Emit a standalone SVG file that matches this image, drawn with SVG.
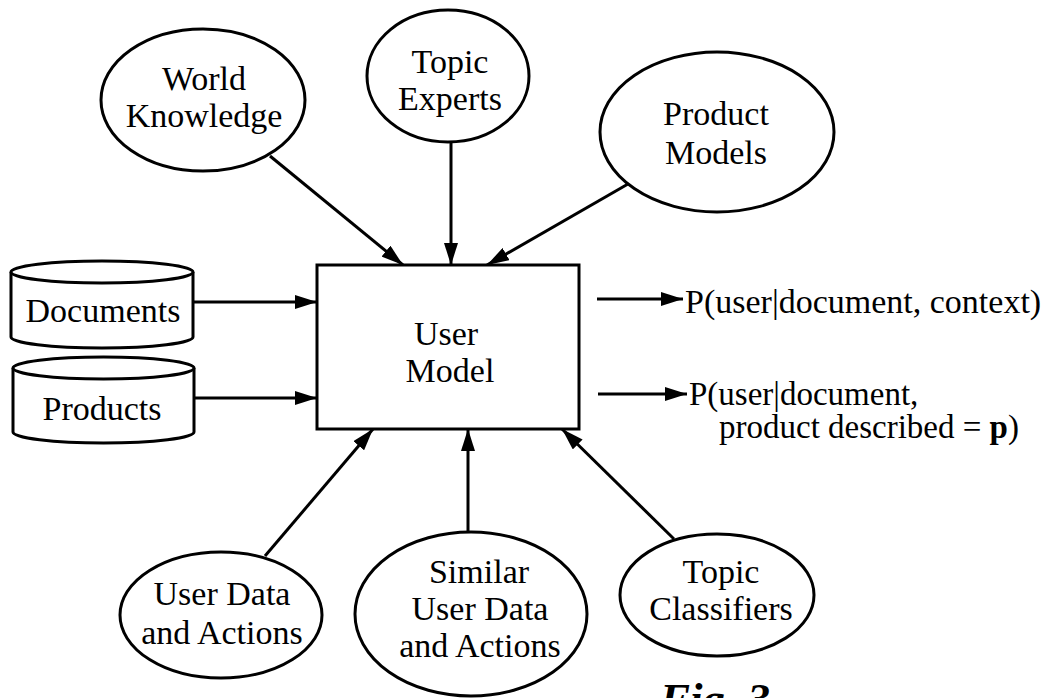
<svg xmlns="http://www.w3.org/2000/svg" width="1057" height="698" viewBox="0 0 1057 698">
<style>
.shape{fill:#fff;stroke:#000;stroke-width:3}
.edge{fill:none;stroke:#000;stroke-width:3}
text{font-family:"Liberation Serif","Times New Roman",serif;font-size:34px;fill:#000}
.c{text-anchor:middle}
.out{font-size:33px}
</style>
<defs>
<marker id="ah" markerUnits="userSpaceOnUse" markerWidth="22" markerHeight="14" viewBox="0 0 22 14" refX="22" refY="7" orient="auto">
<path d="M0,0 L22,7 L0,14 Z" fill="#000"/>
</marker>
</defs>
<rect width="1057" height="698" fill="#fff"/>

<g id="connectors">
<line class="edge" x1="270" y1="156" x2="403" y2="265" marker-end="url(#ah)"/>
<line class="edge" x1="451" y1="142" x2="451" y2="265" marker-end="url(#ah)"/>
<line class="edge" x1="628" y1="184" x2="487" y2="265" marker-end="url(#ah)"/>
<line class="edge" x1="194" y1="302" x2="317" y2="302" marker-end="url(#ah)"/>
<line class="edge" x1="195" y1="398" x2="317" y2="398" marker-end="url(#ah)"/>
<line class="edge" x1="265" y1="556" x2="373" y2="429" marker-end="url(#ah)"/>
<line class="edge" x1="468" y1="532" x2="468" y2="429" marker-end="url(#ah)"/>
<line class="edge" x1="674" y1="539" x2="562" y2="429" marker-end="url(#ah)"/>
<line class="edge" x1="597" y1="299" x2="683" y2="299" marker-end="url(#ah)"/>
<line class="edge" x1="598" y1="394" x2="687" y2="394" marker-end="url(#ah)"/>
</g>

<g id="world-knowledge">
<ellipse class="shape" cx="203" cy="100" rx="102" ry="71"/>
<text class="c" x="204" y="90">World</text>
<text class="c" x="204" y="127">Knowledge</text>
</g>

<g id="topic-experts">
<ellipse class="shape" cx="448" cy="76" rx="81" ry="66"/>
<text class="c" x="450" y="73">Topic</text>
<text class="c" x="450" y="110">Experts</text>
</g>

<g id="product-models">
<ellipse class="shape" cx="717" cy="132" rx="117" ry="80"/>
<text class="c" x="716" y="125">Product</text>
<text class="c" x="716" y="164">Models</text>
</g>

<g id="documents">
<path class="shape" d="M11,272 L11,337 A91,11 0 0 0 193,337 L193,272"/>
<ellipse class="shape" cx="102" cy="272" rx="91" ry="11"/>
<text class="c" x="103" y="322">Documents</text>
</g>

<g id="products">
<path class="shape" d="M13,368 L13,432 A90.5,11 0 0 0 194,432 L194,368"/>
<ellipse class="shape" cx="103.5" cy="368" rx="90.5" ry="11"/>
<text class="c" x="102" y="420">Products</text>
</g>

<g id="user-model">
<rect class="shape" x="317" y="265" width="262" height="164"/>
<text class="c" x="446" y="345">User</text>
<text class="c" x="450" y="382">Model</text>
</g>

<g id="output-1">
<text x="685" y="313">P(user|document, context)</text>
</g>

<g id="output-2">
<text class="out" x="689" y="405">P(user|document,</text>
<text class="out" x="719" y="438">product described = <tspan font-weight="bold">p</tspan>)</text>
</g>

<g id="user-data">
<ellipse class="shape" cx="221" cy="615" rx="101" ry="63"/>
<text class="c" x="222" y="605">User Data</text>
<text class="c" x="222" y="644">and Actions</text>
</g>

<g id="similar-user-data">
<ellipse class="shape" cx="471" cy="614" rx="116" ry="82"/>
<text class="c" x="479" y="583">Similar</text>
<text class="c" x="480" y="620">User Data</text>
<text class="c" x="480" y="657">and Actions</text>
</g>

<g id="topic-classifiers">
<ellipse class="shape" cx="717" cy="595" rx="97" ry="61"/>
<text class="c" x="721" y="583">Topic</text>
<text class="c" x="721" y="620">Classifiers</text>
</g>

<g id="caption">
<text x="660" y="714" style="font-size:45px;font-weight:bold;font-style:italic">Fig. 3</text>
</g>
</svg>
